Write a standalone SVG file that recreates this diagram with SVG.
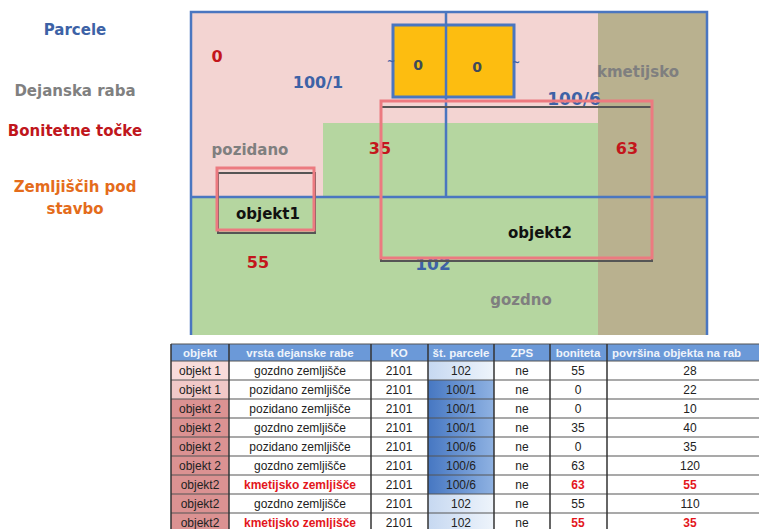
<svg xmlns="http://www.w3.org/2000/svg" width="759" height="529" viewBox="0 0 759 529">
<defs>
<linearGradient id="gDark" x1="0" y1="0" x2="1" y2="0"><stop offset="0" stop-color="#4677c2"/><stop offset="1" stop-color="#8fb2e2"/></linearGradient>
<linearGradient id="gLight" x1="0" y1="0" x2="1" y2="0"><stop offset="0" stop-color="#c6d8f1"/><stop offset="1" stop-color="#eef4fb"/></linearGradient>
<style>
.lbl{font-family:"DejaVu Sans",sans-serif;font-weight:bold;text-anchor:middle}
.red{fill:#c3161c}.blue{fill:#3d62a6}.gray{fill:#7f7f7f}
.bl{stroke:#4a76c0;stroke-width:2.5;fill:none}
.shadow{fill:none;stroke:#555;stroke-width:2}
.obj{fill:none;stroke:#ec7a80;stroke-width:3}
.t{font-family:"Liberation Sans",Arial,sans-serif;font-size:12px;text-anchor:middle;fill:#222}
.th{font-family:"Liberation Sans",Arial,sans-serif;font-size:11.5px;font-weight:bold;text-anchor:middle;fill:#eef3fb}
.tr{fill:#e3161c;font-weight:bold}
.vl{stroke:#333;stroke-width:1.5}
.hl{stroke:#555;stroke-width:1.2}
</style>
</defs>
<rect width="759" height="529" fill="#ffffff"/>

<g id="legend">
<text class="lbl" x="75" y="35" font-size="15" fill="#3d62a6">Parcele</text>
<text class="lbl" x="75" y="96" font-size="15" fill="#808080">Dejanska raba</text>
<text class="lbl" x="75" y="136" font-size="15" fill="#c0161c">Bonitetne točke</text>
<text class="lbl" x="75" y="192" font-size="15" fill="#e46c1b">Zemljiščih pod</text>
<text class="lbl" x="75" y="214" font-size="15" fill="#e46c1b">stavbo</text>
</g>

<g id="map">
<rect x="191" y="12" width="516" height="323" fill="#f3d4d2"/>
<polygon points="323,123 598,123 598,335 191,335 191,196 323,196" fill="#b5d6a0"/>
<rect x="598" y="12" width="109" height="323" fill="#b9b18f"/>

<text class="lbl red" x="217" y="62" font-size="16">0</text>
<text class="lbl blue" x="318" y="88" font-size="16">100/1</text>
<text class="lbl gray" x="638" y="77" font-size="15">kmetijsko</text>
<text class="lbl blue" x="574" y="105" font-size="17">100/6</text>
<text class="lbl gray" x="250" y="155" font-size="15">pozidano</text>
<text class="lbl red" x="380" y="154" font-size="16">35</text>
<text class="lbl red" x="627" y="154" font-size="16">63</text>
<text class="lbl red" x="258" y="268" font-size="16">55</text>
<text class="lbl blue" x="433" y="270" font-size="17">102</text>
<text class="lbl gray" x="521" y="305" font-size="15">gozdno</text>

<path class="bl" d="M191,335 V12 H707 V335 M191,197 H707 M446,12 V197"/>

<g id="stavba">
<rect x="393" y="25" width="121" height="72" fill="#fdbd10" stroke="#4a76c0" stroke-width="3"/>
<line x1="446" y1="25" x2="446" y2="97" stroke="#4a76c0" stroke-width="2.5"/>
<text class="lbl" x="418" y="70" font-size="14" fill="#3f4a5a">0</text>
<text class="lbl" x="477" y="72" font-size="14" fill="#3f4a5a">0</text>
<text class="lbl blue" x="391" y="65" font-size="10">~</text>
<text class="lbl blue" x="516" y="66" font-size="10">~</text>
</g>

<g id="objekt1">
<rect class="shadow" x="218" y="173" width="97" height="60"/>
<rect class="obj" x="217" y="168" width="97" height="62"/>
<text class="lbl" x="268" y="219" font-size="15" fill="#111">objekt1</text>
</g>

<g id="objekt2">
<rect class="shadow" x="381" y="107" width="271" height="154"/>
<rect class="obj" x="381" y="101" width="271" height="157"/>
<text class="lbl" x="540" y="238" font-size="15" fill="#111">objekt2</text>
</g>
</g>

<g id="table">
<rect x="171" y="344" width="590" height="17" fill="#6b99d8"/>
<text class="th" x="200" y="357">objekt</text>
<text class="th" x="300" y="357">vrsta dejanske rabe</text>
<text class="th" x="399" y="357">KO</text>
<text class="th" x="461" y="357">št. parcele</text>
<text class="th" x="522" y="357">ZPS</text>
<text class="th" x="578" y="357">boniteta</text>
<text class="th" x="612" y="357" style="text-anchor:start">površina objekta na rab</text>

<rect x="229" y="361" width="530" height="171" fill="#ffffff"/>
<rect x="171" y="361" width="58" height="19" fill="#f8dcdb"/>
<rect x="171" y="380" width="58" height="19" fill="#f1c9c8"/>
<rect x="171" y="399" width="58" height="133" fill="#db9292"/>
<rect x="428" y="361" width="66" height="19" fill="url(#gLight)"/>
<rect x="428" y="380" width="66" height="114" fill="url(#gDark)"/>
<rect x="428" y="494" width="66" height="38" fill="url(#gLight)"/>

<g class="hl">
<line x1="171" y1="344" x2="759" y2="344"/>
<line x1="171" y1="361" x2="759" y2="361"/>
<line x1="171" y1="380" x2="759" y2="380"/>
<line x1="171" y1="399" x2="759" y2="399"/>
<line x1="171" y1="418" x2="759" y2="418"/>
<line x1="171" y1="437" x2="759" y2="437"/>
<line x1="171" y1="456" x2="759" y2="456"/>
<line x1="171" y1="475" x2="759" y2="475"/>
<line x1="171" y1="494" x2="759" y2="494"/>
<line x1="171" y1="513" x2="759" y2="513"/>
</g>
<g class="vl">
<line x1="171" y1="344" x2="171" y2="529"/>
<line x1="229" y1="344" x2="229" y2="529"/>
<line x1="371" y1="344" x2="371" y2="529"/>
<line x1="428" y1="344" x2="428" y2="529"/>
<line x1="494" y1="344" x2="494" y2="529"/>
<line x1="550" y1="344" x2="550" y2="529"/>
<line x1="607" y1="344" x2="607" y2="529"/>
</g>

<g class="t">
<text x="200" y="375">objekt 1</text><text x="300" y="375">gozdno zemljišče</text><text x="399" y="375">2101</text><text x="461" y="375">102</text><text x="522" y="375">ne</text><text x="578" y="375">55</text><text x="690" y="375">28</text>
<text x="200" y="394">objekt 1</text><text x="300" y="394">pozidano zemljišče</text><text x="399" y="394">2101</text><text x="461" y="394">100/1</text><text x="522" y="394">ne</text><text x="578" y="394">0</text><text x="690" y="394">22</text>
<text x="200" y="413">objekt 2</text><text x="300" y="413">pozidano zemljišče</text><text x="399" y="413">2101</text><text x="461" y="413">100/1</text><text x="522" y="413">ne</text><text x="578" y="413">0</text><text x="690" y="413">10</text>
<text x="200" y="432">objekt 2</text><text x="300" y="432">gozdno zemljišče</text><text x="399" y="432">2101</text><text x="461" y="432">100/1</text><text x="522" y="432">ne</text><text x="578" y="432">35</text><text x="690" y="432">40</text>
<text x="200" y="451">objekt 2</text><text x="300" y="451">pozidano zemljišče</text><text x="399" y="451">2101</text><text x="461" y="451">100/6</text><text x="522" y="451">ne</text><text x="578" y="451">0</text><text x="690" y="451">35</text>
<text x="200" y="470">objekt 2</text><text x="300" y="470">gozdno zemljišče</text><text x="399" y="470">2101</text><text x="461" y="470">100/6</text><text x="522" y="470">ne</text><text x="578" y="470">63</text><text x="690" y="470">120</text>
<text x="200" y="489">objekt2</text><text class="tr" x="300" y="489">kmetijsko zemljišče</text><text x="399" y="489">2101</text><text x="461" y="489">100/6</text><text x="522" y="489">ne</text><text class="tr" x="578" y="489">63</text><text class="tr" x="690" y="489">55</text>
<text x="200" y="508">objekt2</text><text x="300" y="508">gozdno zemljišče</text><text x="399" y="508">2101</text><text x="461" y="508">102</text><text x="522" y="508">ne</text><text x="578" y="508">55</text><text x="690" y="508">110</text>
<text x="200" y="527">objekt2</text><text class="tr" x="300" y="527">kmetijsko zemljišče</text><text x="399" y="527">2101</text><text x="461" y="527">102</text><text x="522" y="527">ne</text><text class="tr" x="578" y="527">55</text><text class="tr" x="690" y="527">35</text>
</g>
</g>
</svg>
